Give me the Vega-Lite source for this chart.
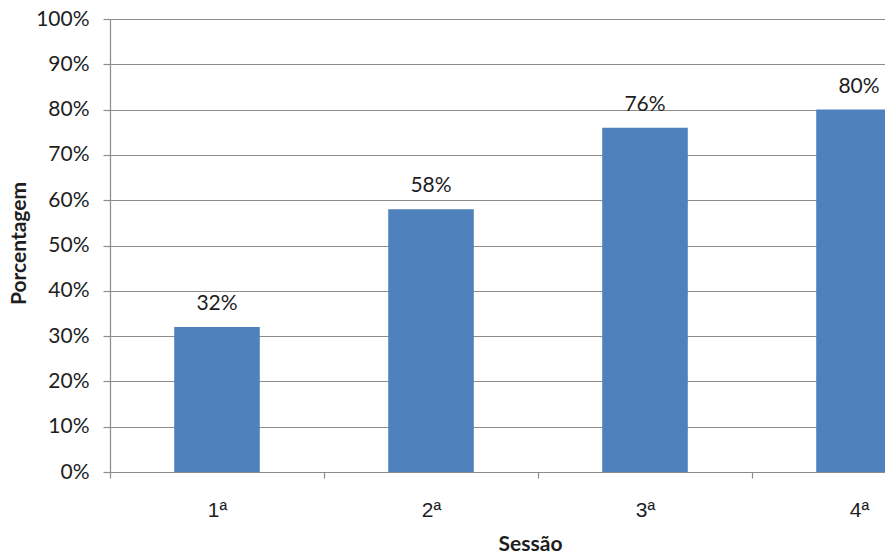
{
  "$schema": "https://vega.github.io/schema/vega-lite/v6.json",
  "width": 775,
  "height": 453,
  "autosize": {"type": "none"},
  "padding": {"left": 110, "top": 19, "right": 0, "bottom": 83},
  "background": "white",
  "config": {
    "view": {"stroke": null},
    "font": "Lato",
    "axis": {
      "labelFont": "Lato",
      "labelFontSize": 21,
      "labelColor": "#1e1e1e",
      "titleFont": "Lato",
      "titleFontSize": 21,
      "titleFontWeight": "bold",
      "titleColor": "#1e1e1e",
      "domainColor": "#8c8c8c",
      "tickColor": "#8c8c8c",
      "gridColor": "#8c8c8c",
      "domainWidth": 1.2,
      "tickWidth": 1.2,
      "gridWidth": 1.2
    }
  },
  "data": {
    "values": [
      {"sessao": "1ª", "pct": 0.32},
      {"sessao": "2ª", "pct": 0.58},
      {"sessao": "3ª", "pct": 0.76},
      {"sessao": "4ª", "pct": 0.80}
    ]
  },
  "encoding": {
    "x": {
      "field": "sessao",
      "type": "nominal",
      "sort": null,
      "scale": {"paddingInner": 0, "paddingOuter": 0, "range": [0, 856]},
      "axis": {
        "title": "Sessão",
        "labelAngle": 0,
        "labelFont": "Liberation Sans",
        "labelFontSize": 21,
        "tickBand": "extent",
        "tickSize": 6,
        "labelPadding": 21,
        "titleX": 420,
        "titleY": 78,
        "titleAnchor": null,
        "titleAlign": "center",
        "titleBaseline": "alphabetic"
      }
    },
    "y": {
      "field": "pct",
      "type": "quantitative",
      "scale": {"domain": [0, 1], "nice": false},
      "axis": {
        "title": "Porcentagem",
        "format": ".0%",
        "values": [0, 0.1, 0.2, 0.3, 0.4, 0.5, 0.6, 0.7, 0.8, 0.9, 1],
        "tickSize": 7,
        "labelPadding": 14,
        "grid": true,
        "titleAngle": -90,
        "titleX": -85,
        "titleY": 224,
        "titleAlign": "center",
        "titleBaseline": "alphabetic",
        "titleAnchor": null
      }
    }
  },
  "layer": [
    {
      "mark": {"type": "bar", "color": "#4f81bd", "width": {"band": 0.4}, "clip": true}
    },
    {
      "mark": {
        "type": "text",
        "font": "Lato",
        "fontSize": 21,
        "color": "#1e1e1e",
        "baseline": "alphabetic",
        "dy": -17,
        "clip": true
      },
      "encoding": {
        "text": {"field": "pct", "type": "quantitative", "format": ".0%"}
      }
    }
  ]
}
